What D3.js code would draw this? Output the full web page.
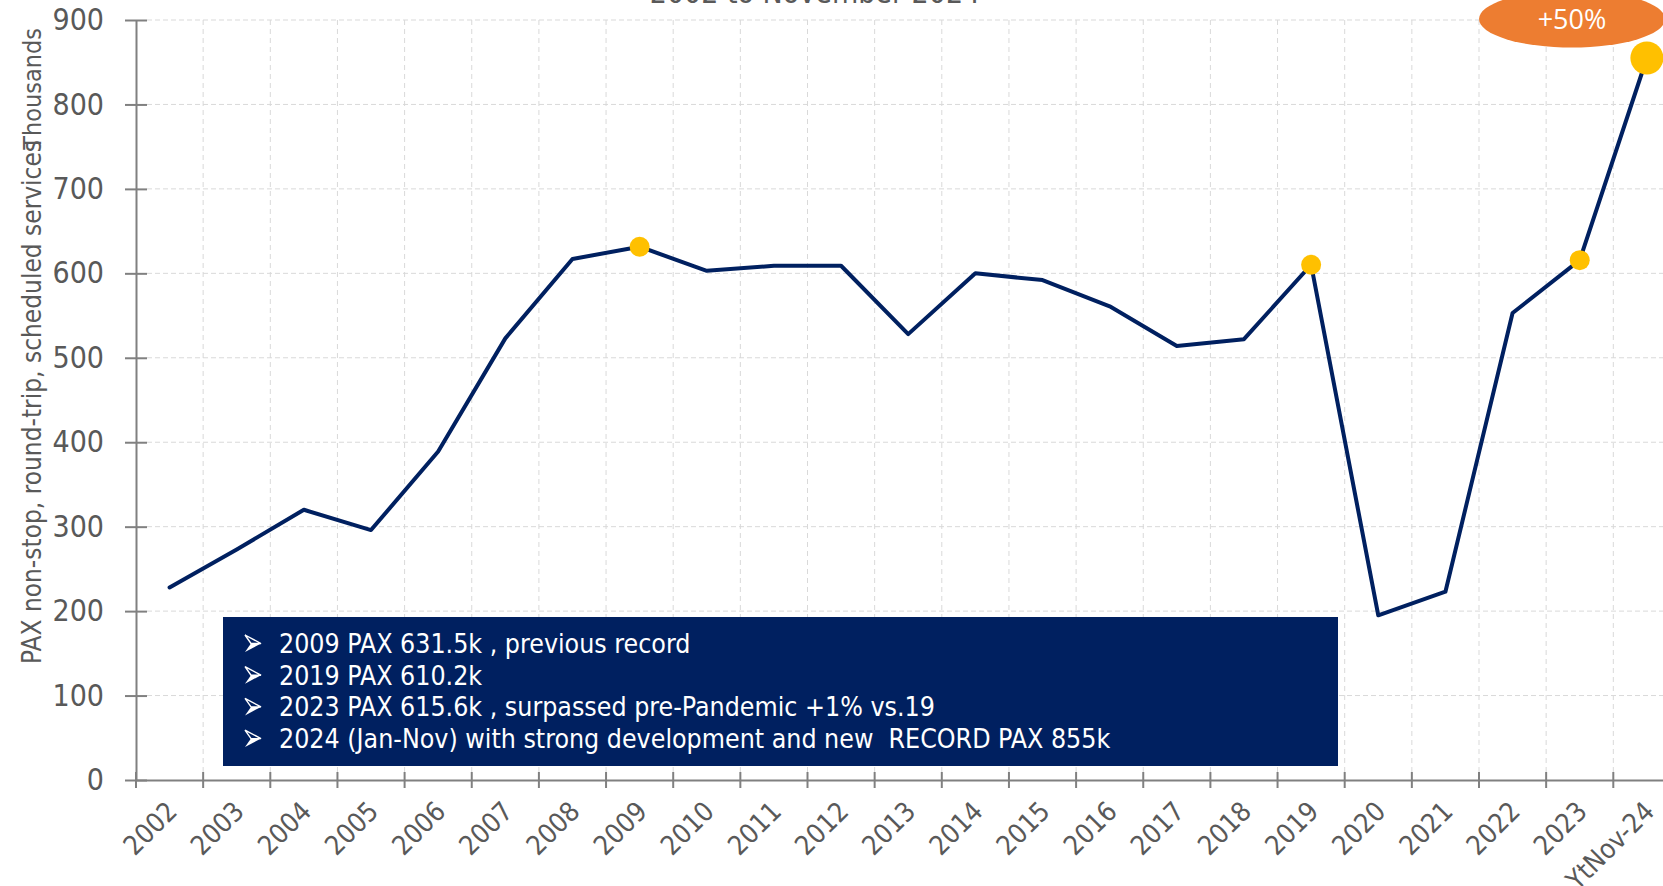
<!DOCTYPE html>
<html>
<head>
<meta charset="utf-8">
<script src="https://cdn.jsdelivr.net/npm/d3@7"></script>
<style>
  html, body { margin: 0; padding: 0; background: #fff; overflow: hidden; }
  svg { display: block; }
  text { font-family: "DejaVu Sans Condensed", "DejaVu Sans", sans-serif; }
</style>
</head>
<body>
<svg id="chart" width="1663" height="886"></svg>
<script>
const categories = ["2002","2003","2004","2005","2006","2007","2008","2009","2010","2011","2012","2013","2014","2015","2016","2017","2018","2019","2020","2021","2022","2023","YtNov-24"];
const paxThousands = [228, 273, 320, 296, 389, 523, 617, 631.5, 603, 609, 609, 528, 600, 592, 561, 514, 522, 610.2, 195, 223, 553, 615.6, 855];
const highlightSmall = ["2009", "2019", "2023"];
const highlightBig = ["YtNov-24"];
const yTicks = [0, 100, 200, 300, 400, 500, 600, 700, 800, 900];
const titleText = "2002 to November 2024";
const yLabel = "PAX non-stop, round-trip, scheduled services";
const yUnit = "Thousands";
const noteLines = [
  "2009 PAX 631.5k , previous record",
  "2019 PAX 610.2k",
  "2023 PAX 615.6k , surpassed pre-Pandemic +1% vs.19",
  "2024 (Jan-Nov) with strong development and new  RECORD PAX 855k"
];
const badgeText = "+50%";

(function () {
const svg = d3.select("#chart");
const mLeft = 136, mTop = 20, mBottom = 780, step = 67.15;
const x = d3.scaleBand().domain(categories).range([mLeft, mLeft + step * categories.length]).padding(0);
const y = d3.scaleLinear().domain([0, 900]).range([mBottom, mTop]);
const plotRight = mLeft + step * categories.length;
const FONT = '"DejaVu Sans Condensed", "DejaVu Sans", sans-serif';

// title (mostly cut off at top, as in the source)
svg.append("text").attr("x", 815).attr("y", 3).attr("text-anchor", "middle")
  .attr("font-size", 30).attr("fill", "#595959").text(titleText);

// grid
const grid = svg.append("g");
grid.selectAll("line.h").data(yTicks.filter(d => d > 0)).join("line")
  .attr("x1", mLeft + 11).attr("x2", plotRight)
  .attr("y1", d => y(d)).attr("y2", d => y(d))
  .attr("stroke", "#d9d9d9").attr("stroke-width", 1).attr("stroke-dasharray", "5,3");
grid.selectAll("line.v").data(categories.slice(1)).join("line")
  .attr("x1", d => x(d)).attr("x2", d => x(d))
  .attr("y1", mTop).attr("y2", mBottom - 8)
  .attr("stroke", "#d9d9d9").attr("stroke-width", 1).attr("stroke-dasharray", "5,4");

// y axis
const yAxis = svg.append("g").attr("transform", `translate(${mLeft},0)`)
  .call(d3.axisLeft(y).tickValues(yTicks).tickSize(11).tickPadding(21).tickSizeOuter(0));
yAxis.select(".domain").attr("stroke", "#808080").attr("stroke-width", 2);
yAxis.selectAll(".tick line").attr("x1", -11).attr("x2", 11).attr("stroke", "#808080").attr("stroke-width", 2);
yAxis.selectAll(".tick text").attr("font-size", 30).attr("fill", "#595959").style("font-family", FONT);

// x axis
const xAxis = svg.append("g").attr("transform", `translate(0,${mBottom})`)
  .call(d3.axisBottom(x).tickSize(0).tickSizeOuter(0).tickPadding(0));
xAxis.select(".domain").attr("stroke", "#808080").attr("stroke-width", 2);
xAxis.selectAll(".tick text")
  .attr("font-size", 27).attr("fill", "#595959").style("font-family", FONT)
  .attr("text-anchor", "end").attr("dy", 0)
  .attr("transform", "translate(9,33) rotate(-45)");
svg.append("g").selectAll("line").data(categories).join("line")
  .attr("x1", d => x(d)).attr("x2", d => x(d))
  .attr("y1", mBottom - 8).attr("y2", mBottom + 8)
  .attr("stroke", "#808080").attr("stroke-width", 2);

// axis titles
svg.append("text").attr("transform", "translate(41,664) rotate(-90)")
  .attr("font-size", 26).attr("fill", "#595959").text(yLabel);
svg.append("text").attr("transform", "translate(41,28) rotate(-90)").attr("text-anchor", "end")
  .attr("font-size", 25).attr("fill", "#595959").text(yUnit);

// line
const pts = categories.map((c, i) => ({c, v: paxThousands[i]}));
const cx = d => x(d.c) + x.bandwidth() / 2;
svg.append("path").datum(pts)
  .attr("d", d3.line().x(cx).y(d => y(d.v)))
  .attr("fill", "none").attr("stroke", "#002060").attr("stroke-width", 4)
  .attr("stroke-linejoin", "round").attr("stroke-linecap", "round");

// markers
svg.append("g").selectAll("circle").data(pts.filter(d => highlightSmall.includes(d.c))).join("circle")
  .attr("cx", cx).attr("cy", d => y(d.v)).attr("r", 10).attr("fill", "#FFC000");
svg.append("g").selectAll("circle").data(pts.filter(d => highlightBig.includes(d.c))).join("circle")
  .attr("cx", cx).attr("cy", d => y(d.v)).attr("r", 16.5).attr("fill", "#FFC000");

// note box
const note = svg.append("g");
note.append("rect").attr("x", 223).attr("y", 617).attr("width", 1115).attr("height", 149).attr("fill", "#002060");
noteLines.forEach((t, i) => {
  const by = 653 + i * 31.7;
  const b = note.append("g").attr("transform", `translate(245,${by})`);
  b.append("path").attr("d", "M0,-1 L16,-9.5 L6,-9.5 Z").attr("fill", "#fff");
  b.append("path").attr("d", "M0,-18 L16,-9.5 L6,-9.5 Z").attr("fill", "none")
    .attr("stroke", "#fff").attr("stroke-width", 1.4).attr("stroke-linejoin", "miter");
  note.append("text").attr("x", 279).attr("y", by).attr("font-size", 26.5).attr("fill", "#fff")
    .attr("xml:space", "preserve").style("white-space", "pre").text(t);
});

// badge
svg.append("ellipse").attr("cx", 1572).attr("cy", 19).attr("rx", 93).attr("ry", 28.5).attr("fill", "#ED7D31");
svg.append("text").attr("x", 1572).attr("y", 29).attr("text-anchor", "middle")
  .attr("font-size", 27).attr("fill", "#fff").style("font-family", '"Open Sans", sans-serif').text(badgeText);
})();
</script>
</body>
</html>
